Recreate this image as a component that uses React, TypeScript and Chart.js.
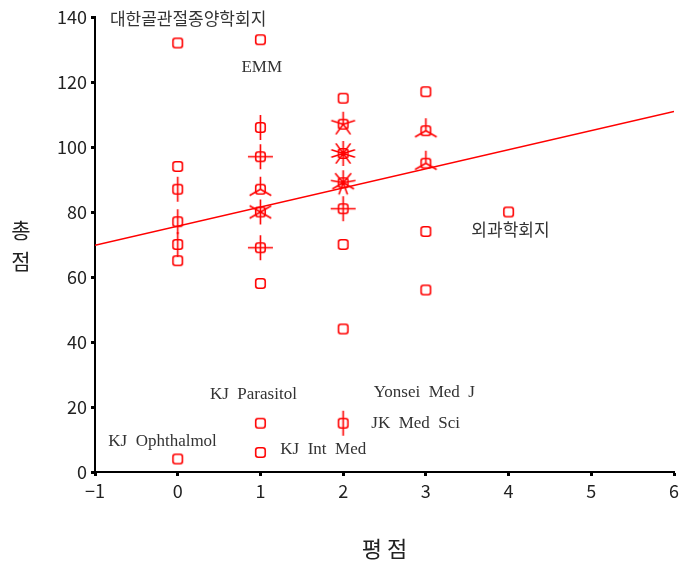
import React, { useEffect, useRef } from "react";
import { Chart, registerables } from "chart.js";

Chart.register(...registerables);

// Sunflower points: x (평점), y (총점), count (number of overlapping articles)
const pointX = [0, 0, 0, 0, 0, 0, 0, 1, 1, 1, 1, 1, 1, 1, 1, 1, 2, 2, 2, 2, 2, 2, 2, 2, 3, 3, 3, 3, 3, 4];
const pointY = [132, 94, 87, 77, 70, 65, 4, 133, 106, 97, 87, 80, 69, 58, 15, 6, 115, 107, 98, 89, 81, 70, 44, 15, 117, 105, 95, 74, 56, 80];
const pointCount = [1, 1, 2, 2, 2, 1, 1, 1, 2, 4, 3, 6, 4, 1, 1, 1, 1, 5, 10, 9, 4, 1, 1, 2, 1, 3, 3, 1, 1, 1];

// Fit line end points
const fitX = [-1, 6];
const fitY = [69.8, 110.9];

// Journal annotations (data coordinates of the text's left/middle)
const noteText = ["대한골관절종양학회지", "EMM", "외과학회지", "KJ  Parasitol", "Yonsei  Med  J", "JK  Med  Sci", "KJ  Ophthalmol", "KJ  Int  Med"];
const noteX = [-0.82, 0.77, 3.55, 0.39, 2.37, 2.34, -0.84, 1.24];
const noteY = [139.6, 124.3, 74.6, 23.7, 24.3, 15.0, 9.5, 7.0];

const xTicks = [-1, 0, 1, 2, 3, 4, 5, 6];
const yTicks = [0, 20, 40, 60, 80, 100, 120, 140];
const xTitle = "평 점";
const yTitle = ["총", "점"];

const RED = "#ff0000";

function makeSunflower(n: number): HTMLCanvasElement {
  const size = 33;
  const c = document.createElement("canvas");
  c.width = size;
  c.height = size;
  const ctx = c.getContext("2d")!;
  const cx = size / 2;
  const cy = size / 2;
  ctx.strokeStyle = RED;
  ctx.lineWidth = 1.6;
  const s = 9.5;
  const r = 2.5;
  const x0 = cx - s / 2;
  const y0 = cy - s / 2;
  ctx.beginPath();
  ctx.moveTo(x0 + r, y0);
  ctx.lineTo(x0 + s - r, y0);
  ctx.quadraticCurveTo(x0 + s, y0, x0 + s, y0 + r);
  ctx.lineTo(x0 + s, y0 + s - r);
  ctx.quadraticCurveTo(x0 + s, y0 + s, x0 + s - r, y0 + s);
  ctx.lineTo(x0 + r, y0 + s);
  ctx.quadraticCurveTo(x0, y0 + s, x0, y0 + s - r);
  ctx.lineTo(x0, y0 + r);
  ctx.quadraticCurveTo(x0, y0, x0 + r, y0);
  ctx.closePath();
  ctx.stroke();
  if (n > 1) {
    const len = 12.5;
    ctx.beginPath();
    for (let i = 0; i < n; i++) {
      const a = Math.PI / 2 + (i * 2 * Math.PI) / n;
      ctx.moveTo(cx, cy);
      ctx.lineTo(cx + Math.cos(a) * len, cy - Math.sin(a) * len);
    }
    ctx.stroke();
  }
  return c;
}

const notesPlugin = {
  id: "notes",
  afterDatasetsDraw(chart: any) {
    const { ctx, scales, chartArea } = chart;
    ctx.save();
    ctx.fillStyle = "#333333";
    ctx.textAlign = "left";
    ctx.textBaseline = "middle";
    noteText.forEach((t, i) => {
      const korean = /[\uac00-\ud7a3]/.test(t);
      ctx.font = korean
        ? '17px "Noto Sans CJK KR", serif'
        : '17px "Liberation Serif", serif';
      ctx.fillText(t, scales.x.getPixelForValue(noteX[i]), scales.y.getPixelForValue(noteY[i]));
    });
    // upright stacked y title
    ctx.fillStyle = "#222222";
    ctx.font = '21px "Noto Sans CJK KR", sans-serif';
    ctx.textAlign = "center";
    const midY = (chartArea.top + chartArea.bottom) / 2;
    ctx.fillText(yTitle[0], 21, midY - 14);
    ctx.fillText(yTitle[1], 21, midY + 17);
    ctx.restore();
  },
};

export default function App() {
  const ref = useRef<HTMLCanvasElement>(null);
  useEffect(() => {
    if (!ref.current) return;
    const styles = pointCount.map((n) => makeSunflower(n));
    const tickFont = { family: '"Noto Sans CJK KR", "DejaVu Sans", sans-serif', size: 18 };
    const chart = new Chart(ref.current, {
      type: "scatter",
      data: {
        datasets: [
          {
            type: "scatter",
            data: pointX.map((x, i) => ({ x, y: pointY[i] })),
            pointStyle: styles as any,
            pointRadius: 5,
            borderColor: RED,
            backgroundColor: "transparent",
            order: 1,
          },
          {
            type: "line",
            data: fitX.map((x, i) => ({ x, y: fitY[i] })),
            borderColor: RED,
            borderWidth: 1.5,
            pointRadius: 0,
            fill: false,
            order: 2,
          } as any,
        ],
      },
      options: {
        animation: false,
        responsive: true,
        maintainAspectRatio: false,
        layout: { padding: { left: 0, right: 8, top: 17, bottom: 0 } },
        plugins: { legend: { display: false }, tooltip: { enabled: false } },
        scales: {
          x: {
            type: "linear",
            min: -1,
            max: 6,
            afterBuildTicks: (s: any) => {
              s.ticks = xTicks.map((v) => ({ value: v }));
            },
            afterFit: (s: any) => {
              s.height = 102;
            },
            ticks: {
              color: "#222",
              font: tickFont,
              padding: 4,
              callback: (v: any) => (Number(v) < 0 ? "\u2212" + Math.abs(Number(v)) : String(v)),
            },
            grid: { drawOnChartArea: false, tickLength: 4, tickWidth: 3, color: "#000" },
            border: { color: "#000", width: 2 },
            title: {
              display: true,
              text: xTitle,
              color: "#222",
              font: { family: '"Noto Sans CJK KR", sans-serif', size: 22 },
              padding: { top: 0, bottom: 12 },
            },
          },
          y: {
            type: "linear",
            min: 0,
            max: 140,
            afterBuildTicks: (s: any) => {
              s.ticks = yTicks.map((v) => ({ value: v }));
            },
            afterFit: (s: any) => {
              s.width = 95;
            },
            ticks: { color: "#222", font: tickFont, padding: 4 },
            grid: { drawOnChartArea: false, tickLength: 4, tickWidth: 3, color: "#000" },
            border: { color: "#000", width: 2 },
          },
        },
      },
      plugins: [notesPlugin],
    });
    return () => chart.destroy();
  }, []);
  return (
    <div style={{ position: "absolute", left: 0, top: 0, width: 683, height: 574, background: "#fff" }}>
      <canvas ref={ref} />
    </div>
  );
}
